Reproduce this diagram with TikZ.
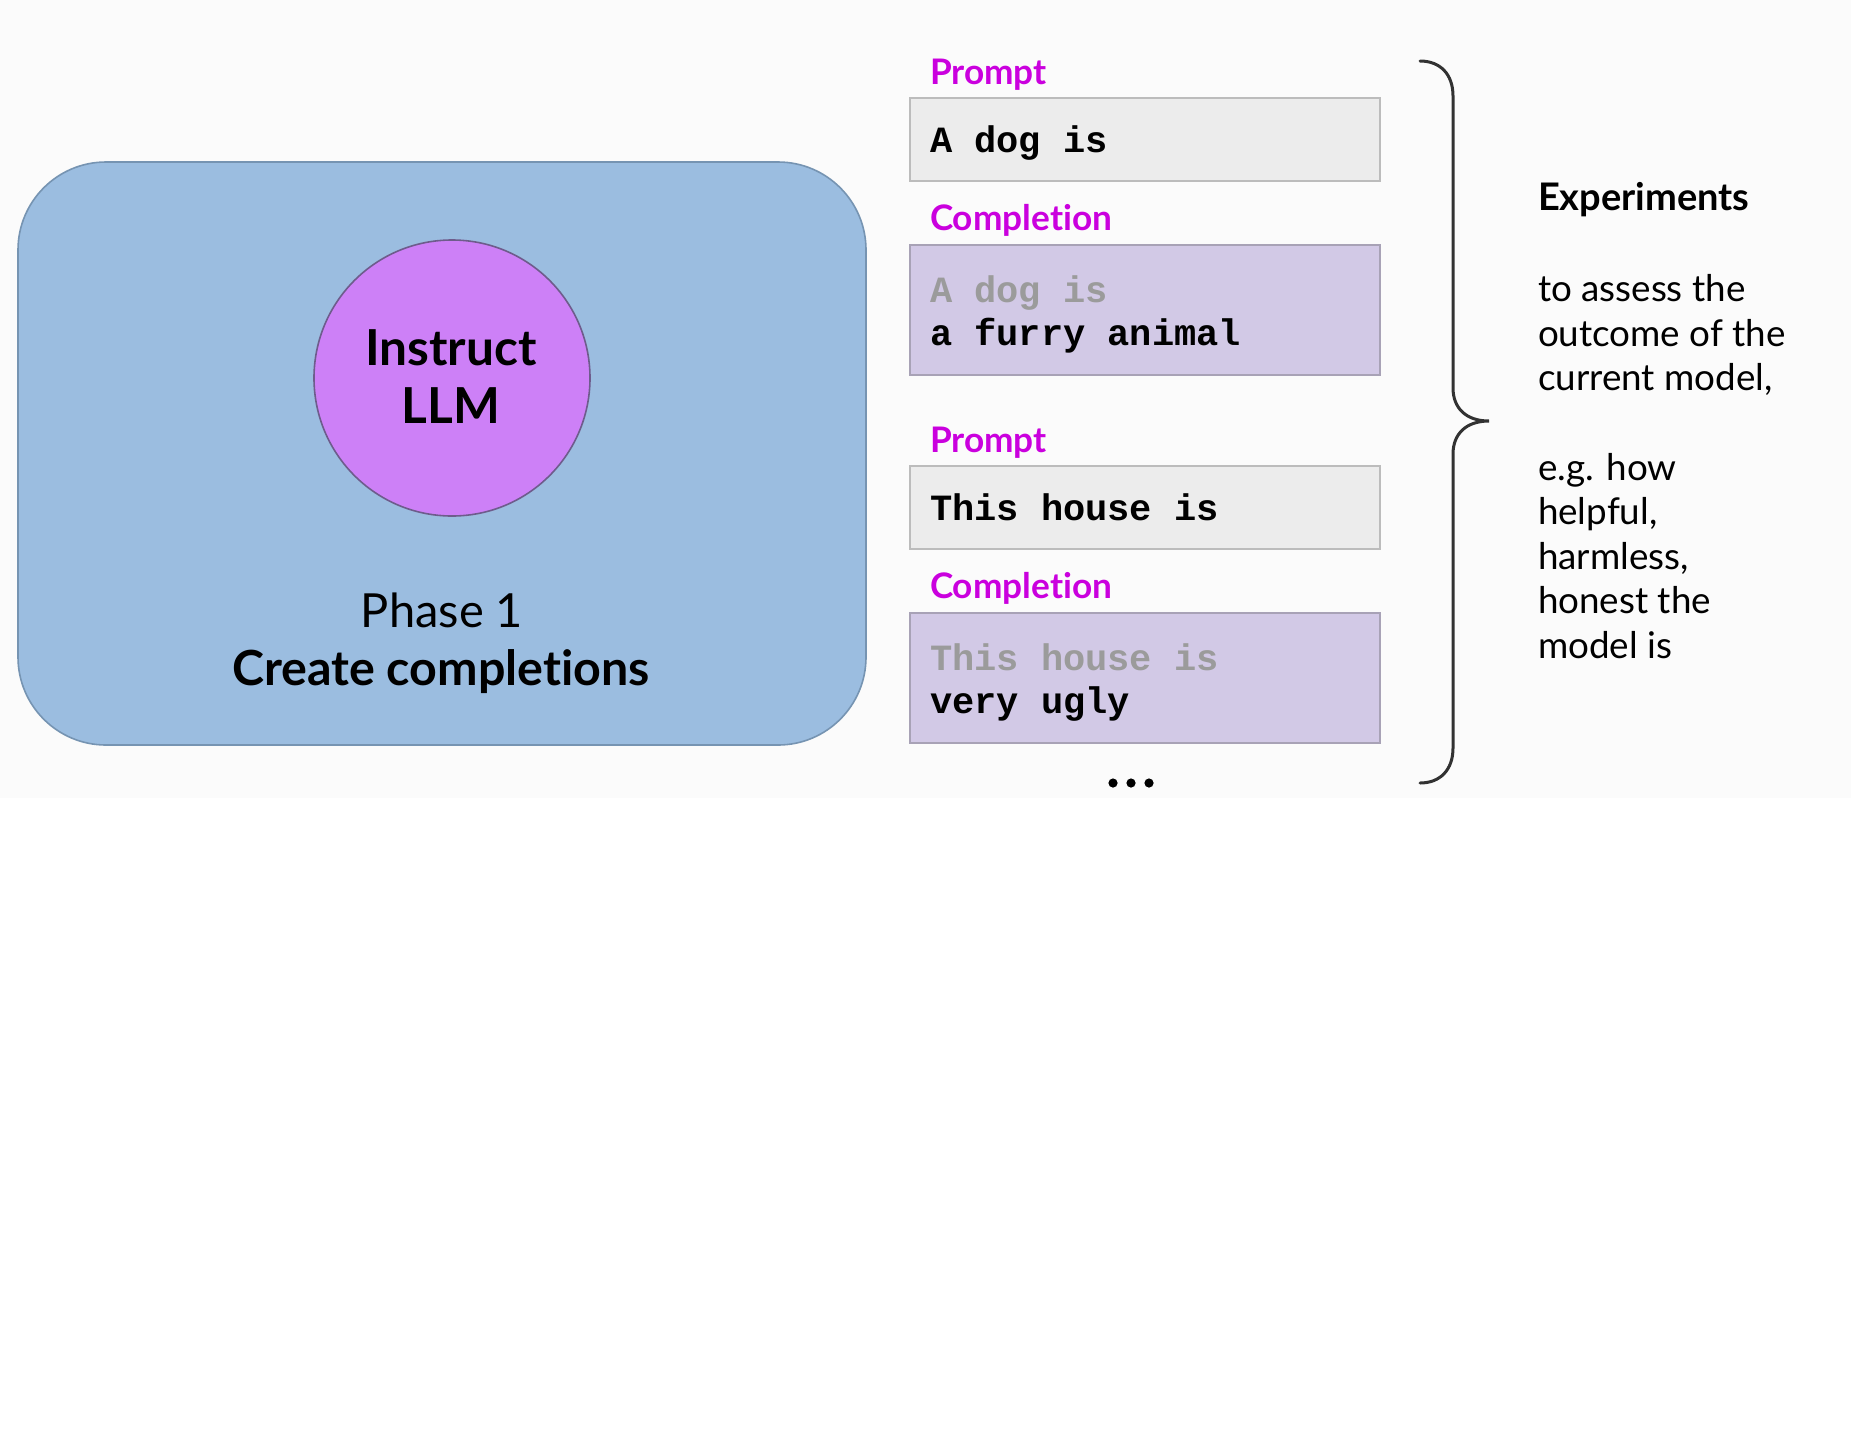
\documentclass[tikz,border=0pt]{standalone}
\usepackage{fontspec}
\setmainfont{Lato}[Ligatures={NoCommon}]
\newfontfamily\monofont{Liberation Mono}
\definecolor{bgtop}{RGB}{251,251,251}
\definecolor{bluefill}{RGB}{155,189,224}
\definecolor{blueline}{RGB}{118,148,178}
\definecolor{llmfill}{RGB}{205,128,247}
\definecolor{llmline}{RGB}{110,92,140}
\definecolor{promptfill}{RGB}{236,236,236}
\definecolor{promptline}{RGB}{188,188,188}
\definecolor{complfill}{RGB}{210,201,230}
\definecolor{complline}{RGB}{168,162,182}
\definecolor{magentalabel}{RGB}{202,0,222}
\definecolor{greytext}{RGB}{155,155,155}
\definecolor{bracecol}{RGB}{50,50,50}
\tikzset{
  txt/.style={inner sep=0pt, outer sep=0pt},
  lbl/.style={txt, anchor=base west, text=magentalabel, font=\fontsize{17.6pt}{21pt}\selectfont\bfseries},
  mono/.style={txt, anchor=base west, font=\fontsize{18.5pt}{22pt}\selectfont\monofont\bfseries},
  side/.style={txt, anchor=base west, font=\fontsize{18.4pt}{22pt}\selectfont},
  pbox/.style={fill=promptfill, draw=promptline, line width=1pt},
  cbox/.style={fill=complfill, draw=complline, line width=1pt},
}
\begin{document}
\begin{tikzpicture}[x=0.5pt,y=-0.5pt]
\useasboundingbox (0,0) rectangle (1851,1452);
\fill[white] (0,0) rectangle (1851,1452);
\fill[bgtop] (0,0) rectangle (1851,798);

% Phase 1 panel
\draw[fill=bluefill, draw=blueline, line width=0.8pt, rounded corners=44pt] (18,162) rectangle (866,745);
\node[circle, minimum size=138pt, inner sep=0pt, fill=llmfill, draw=llmline, line width=0.8pt] (llm) at (452,378) {};
\node[txt, anchor=base, font=\fontsize{24.8pt}{29pt}\selectfont\bfseries] (llm1) at (451,365) {Instruct};
\node[txt, anchor=base, font=\fontsize{24.8pt}{29pt}\selectfont\bfseries] (llm2) at (451,423) {LLM};
\node[txt, anchor=base, font=\fontsize{23.5pt}{29pt}\selectfont] (ph1) at (442,627) {Phase 1};
\node[txt, anchor=base, font=\fontsize{24.2pt}{29pt}\selectfont\bfseries] (ph2) at (441,685) {Create completions};

% Prompt / completion boxes
\draw[pbox] (910,98) rectangle (1380,181);
\draw[cbox] (910,245) rectangle (1380,375);
\draw[pbox] (910,466) rectangle (1380,549);
\draw[cbox] (910,613) rectangle (1380,743);

\node[lbl] (p1) at (930,84) {Prompt};
\node[mono] (p1t) at (930,152) {A dog is};
\node[lbl] (c1) at (930,230) {Completion};
\node[mono, text=greytext] (c1a) at (930,302) {A dog is};
\node[mono] (c1b) at (930,345) {a furry animal};

\node[lbl] (p2) at (930,452) {Prompt};
\node[mono] (p2t) at (930,520) {This house is};
\node[lbl] (c2) at (930,598) {Completion};
\node[mono, text=greytext] (c2a) at (930,670) {This house is};
\node[mono] (c2b) at (930,713) {very ugly};

\fill (1113,783) circle[radius=2.3pt];
\fill (1131,783) circle[radius=2.3pt];
\fill (1149,783) circle[radius=2.3pt];

% Brace
\coordinate (bt) at (1420,61);
\coordinate (bm) at (1489,421);
\coordinate (bb) at (1420,783);
\draw[bracecol, line width=1.5pt, line cap=round]
  (bt) .. controls (1440,61) and (1453,74) .. (1453,96)
  -- (1453,388) .. controls (1453,408) and (1466,421) .. (bm)
  .. controls (1466,421) and (1453,434) .. (1453,454)
  -- (1453,748) .. controls (1453,770) and (1440,783) .. (bb);

% Side text
\node[side, font=\fontsize{19pt}{22pt}\selectfont\bfseries] (exp) at (1538,210) {Experiments};
\node[side] (s1) at (1538,301) {to assess the};
\node[side] (s2) at (1538,346) {outcome of the};
\node[side] (s3) at (1538,390) {current model,};
\node[side] (s4) at (1538,480) {e.g. how};
\node[side] (s5) at (1538,524) {helpful,};
\node[side] (s6) at (1538,569) {harmless,};
\node[side] (s7) at (1538,613) {honest the};
\node[side] (s8) at (1538,658) {model is};
\end{tikzpicture}
\end{document}
